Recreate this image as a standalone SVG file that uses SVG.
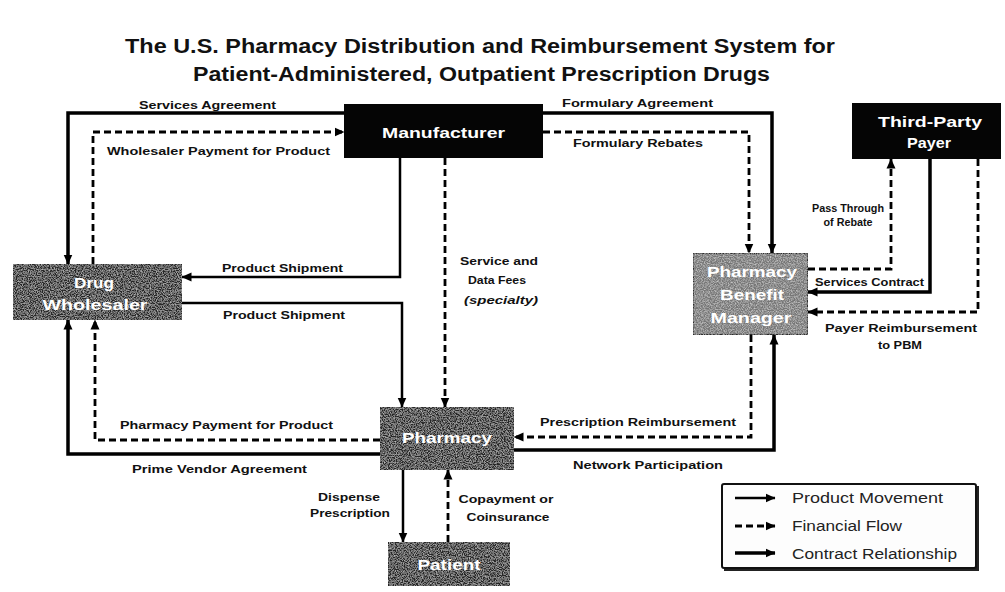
<svg xmlns="http://www.w3.org/2000/svg" width="1005" height="592" viewBox="0 0 1005 592">
  <defs>
    <style>
      .title { font-family: "Liberation Sans", Arial, sans-serif; font-weight: bold; font-size: 20px; fill: #111; }
      .node-text { font-family: "Liberation Sans", Arial, sans-serif; font-weight: bold; font-size: 15.5px; fill: #fff; text-anchor: middle; }
      .lbl { font-family: "Liberation Sans", Arial, sans-serif; font-weight: bold; font-size: 11.5px; fill: #111; }
      .lbl-c { text-anchor: middle; }
      .legend-text { font-family: "Liberation Sans", Arial, sans-serif; font-size: 14px; fill: #222; }
      .contract { fill: none; stroke: #000; stroke-width: 3.5; marker-end: url(#head); }
      .product { fill: none; stroke: #000; stroke-width: 2.5; marker-end: url(#head); }
      .financial { fill: none; stroke: #000; stroke-width: 2.8; stroke-dasharray: 7 4; marker-end: url(#head); }
      .box-black { fill: #050505; }
      .box-dark { fill: #262626; }
      .box-grey { fill: #767676; stroke: #2a2a2a; stroke-width: 2; }
    </style>
    <marker id="head" viewBox="0 0 10 10" refX="9.5" refY="5" markerWidth="10" markerHeight="10" markerUnits="userSpaceOnUse" orient="auto">
      <path d="M0,0.5 L10,5 L0,9.5 z" fill="#000"/>
    </marker>
    <!-- speckled texture for the printed grey boxes -->
    <filter id="grain" x="0" y="0" width="100%" height="100%">
      <feTurbulence type="fractalNoise" baseFrequency="0.85" numOctaves="2" seed="7" result="noise"/>
      <feColorMatrix in="noise" type="matrix" values="0 0 0 0 1  0 0 0 0 1  0 0 0 0 1  1.0 0 0 0 -0.38" result="speck"/>
      <feComposite in="speck" in2="SourceGraphic" operator="in" result="clipped"/>
      <feMerge>
        <feMergeNode in="SourceGraphic"/>
        <feMergeNode in="clipped"/>
      </feMerge>
    </filter>
  </defs>

  <rect x="0" y="0" width="1005" height="592" fill="#fff"/>

  <!-- heading -->
  <g id="title">
    <text class="title" x="125" y="53" textLength="710" lengthAdjust="spacingAndGlyphs">The U.S. Pharmacy Distribution and Reimbursement System for</text>
    <text class="title" x="193" y="81" textLength="577" lengthAdjust="spacingAndGlyphs">Patient-Administered, Outpatient Prescription Drugs</text>
  </g>

  <!-- flows between the parties -->
  <g id="connectors">
    <!-- contract relationships -->
    <path class="contract" d="M344,113 H68 V264"/>
    <path class="contract" d="M543,113 H772 V253"/>
    <path class="contract" d="M380,454 H68 V320"/>
    <path class="contract" d="M514,450 H774 V335"/>
    <path class="contract" d="M930,159 V292 H808"/>
    <!-- product movement -->
    <path class="product" d="M400,158 V277 H182"/>
    <path class="product" d="M182,303 H402 V407"/>
    <path class="product" d="M403,470 V542"/>
    <!-- financial flows -->
    <path class="financial" d="M93,264 V132 H344"/>
    <path class="financial" d="M380,440 H95 V320"/>
    <path class="financial" d="M543,132 H749 V253"/>
    <path class="financial" d="M445,158 V407"/>
    <path class="financial" d="M808,269 H891 V159"/>
    <path class="financial" d="M978,159 V312 H808"/>
    <path class="financial" d="M751,335 V437 H514"/>
    <path class="financial" d="M448,542 V470"/>
  </g>

  <!-- flow labels -->
  <g id="labels">
    <text class="lbl" x="139" y="109" textLength="137" lengthAdjust="spacingAndGlyphs">Services Agreement</text>
    <text class="lbl" x="107" y="155" textLength="223" lengthAdjust="spacingAndGlyphs">Wholesaler Payment for Product</text>
    <text class="lbl" x="222" y="272" textLength="121" lengthAdjust="spacingAndGlyphs">Product Shipment</text>
    <text class="lbl" x="223" y="319" textLength="122" lengthAdjust="spacingAndGlyphs">Product Shipment</text>
    <text class="lbl lbl-c" x="499" y="265" textLength="78" lengthAdjust="spacingAndGlyphs">Service and</text>
    <text class="lbl lbl-c" x="497" y="284" textLength="58" lengthAdjust="spacingAndGlyphs">Data Fees</text>
    <text class="lbl lbl-c" x="501" y="304" textLength="74" lengthAdjust="spacingAndGlyphs" font-style="italic" font-weight="normal">(specialty)</text>
    <text class="lbl" x="562" y="107" textLength="151" lengthAdjust="spacingAndGlyphs">Formulary Agreement</text>
    <text class="lbl" x="573" y="147" textLength="130" lengthAdjust="spacingAndGlyphs">Formulary Rebates</text>
    <text class="lbl lbl-c" x="848" y="212" textLength="72" lengthAdjust="spacingAndGlyphs">Pass Through</text>
    <text class="lbl lbl-c" x="848" y="226" textLength="49" lengthAdjust="spacingAndGlyphs">of Rebate</text>
    <text class="lbl" x="815" y="286" textLength="109" lengthAdjust="spacingAndGlyphs">Services Contract</text>
    <text class="lbl lbl-c" x="901" y="332" textLength="152" lengthAdjust="spacingAndGlyphs">Payer Reimbursement</text>
    <text class="lbl lbl-c" x="900" y="349" textLength="44" lengthAdjust="spacingAndGlyphs">to PBM</text>
    <text class="lbl" x="540" y="426" textLength="196" lengthAdjust="spacingAndGlyphs">Prescription Reimbursement</text>
    <text class="lbl" x="573" y="469" textLength="150" lengthAdjust="spacingAndGlyphs">Network Participation</text>
    <text class="lbl" x="120" y="429" textLength="213" lengthAdjust="spacingAndGlyphs">Pharmacy Payment for Product</text>
    <text class="lbl" x="132" y="473" textLength="175" lengthAdjust="spacingAndGlyphs">Prime Vendor Agreement</text>
    <text class="lbl lbl-c" x="349" y="501" textLength="62" lengthAdjust="spacingAndGlyphs">Dispense</text>
    <text class="lbl lbl-c" x="350" y="517" textLength="80" lengthAdjust="spacingAndGlyphs">Prescription</text>
    <text class="lbl lbl-c" x="506" y="503" textLength="95" lengthAdjust="spacingAndGlyphs">Copayment or</text>
    <text class="lbl lbl-c" x="508" y="521" textLength="83" lengthAdjust="spacingAndGlyphs">Coinsurance</text>
  </g>

  <!-- parties -->
  <g id="manufacturer">
    <rect class="box-black" x="344" y="104" width="199" height="54"/>
    <text class="node-text" x="443.5" y="138" textLength="123" lengthAdjust="spacingAndGlyphs">Manufacturer</text>
  </g>

  <g id="third-party-payer">
    <rect class="box-black" x="852" y="103" width="149" height="56"/>
    <text class="node-text" x="930" y="127" textLength="104" lengthAdjust="spacingAndGlyphs">Third-Party</text>
    <text class="node-text" x="929" y="148" textLength="44" lengthAdjust="spacingAndGlyphs">Payer</text>
  </g>

  <g id="drug-wholesaler">
    <rect class="box-dark" x="13" y="264" width="169" height="56" filter="url(#grain)"/>
    <text class="node-text" x="94" y="288" textLength="40" lengthAdjust="spacingAndGlyphs">Drug</text>
    <text class="node-text" x="95" y="310" textLength="105" lengthAdjust="spacingAndGlyphs">Wholesaler</text>
  </g>

  <g id="pharmacy-benefit-manager">
    <rect class="box-grey" x="693" y="253" width="115" height="82" filter="url(#grain)"/>
    <text class="node-text" x="752" y="277" textLength="90" lengthAdjust="spacingAndGlyphs">Pharmacy</text>
    <text class="node-text" x="752" y="300" textLength="64" lengthAdjust="spacingAndGlyphs">Benefit</text>
    <text class="node-text" x="751" y="323" textLength="81" lengthAdjust="spacingAndGlyphs">Manager</text>
  </g>

  <g id="pharmacy">
    <rect class="box-dark" x="380" y="407" width="134" height="63" filter="url(#grain)"/>
    <text class="node-text" x="447" y="443" textLength="90" lengthAdjust="spacingAndGlyphs">Pharmacy</text>
  </g>

  <g id="patient">
    <rect class="box-dark" x="388" y="542" width="122" height="44" filter="url(#grain)"/>
    <text class="node-text" x="449" y="570" textLength="63" lengthAdjust="spacingAndGlyphs">Patient</text>
  </g>

  <!-- key -->
  <g id="legend">
    <rect x="724" y="486" width="255" height="85" fill="#222"/>
    <rect x="722" y="484" width="254" height="84" fill="#fdfdfd" stroke="#111" stroke-width="2" rx="2"/>
    <line class="product" x1="735" y1="498" x2="775" y2="498"/>
    <line class="financial" x1="735" y1="526" x2="775" y2="526"/>
    <line class="contract" x1="735" y1="553" x2="775" y2="553"/>
    <text class="legend-text" x="792" y="503" textLength="151" lengthAdjust="spacingAndGlyphs">Product Movement</text>
    <text class="legend-text" x="792" y="531" textLength="110" lengthAdjust="spacingAndGlyphs">Financial Flow</text>
    <text class="legend-text" x="792" y="559" textLength="165" lengthAdjust="spacingAndGlyphs">Contract Relationship</text>
  </g>
</svg>
